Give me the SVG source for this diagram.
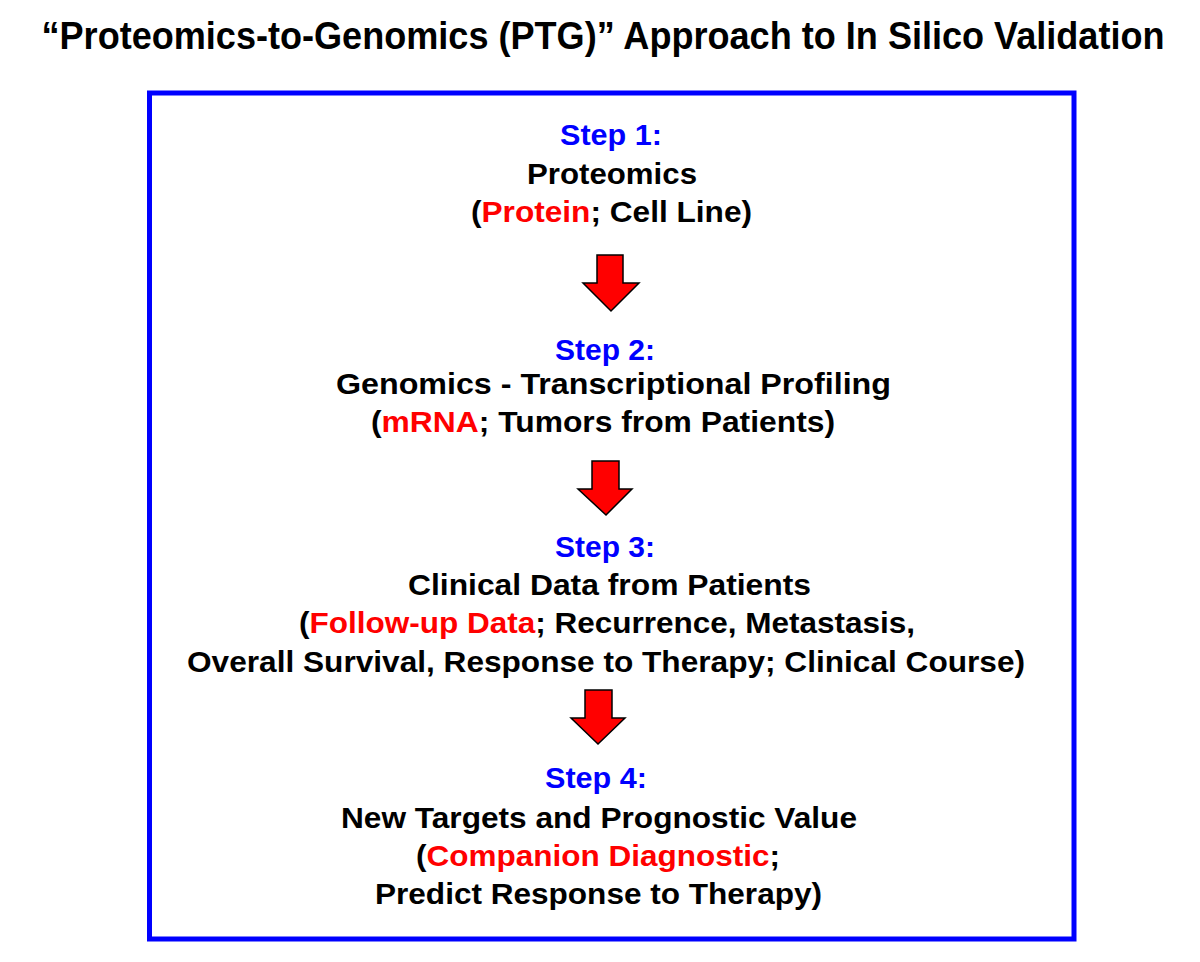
<svg xmlns="http://www.w3.org/2000/svg" width="1200" height="962" viewBox="0 0 1200 962">
<style>
.t{font-family:"Liberation Sans",Arial,sans-serif;font-weight:bold;font-size:30px;text-anchor:middle;fill:#000}
.s{fill:#0000FF}
.r{fill:#FF0000}
.title{font-family:"Liberation Sans",Arial,sans-serif;font-weight:bold;font-size:39px;text-anchor:middle;fill:#000}
.arrow{fill:#FF0000;stroke:#000;stroke-width:1.5;stroke-linejoin:miter}
</style>
<rect width="1200" height="962" fill="#fff"/>
<text class="title" x="603" y="49" textLength="1123" lengthAdjust="spacingAndGlyphs">“Proteomics-to-Genomics (PTG)” Approach to In Silico Validation</text>
<rect id="frame" x="149.5" y="93" width="924.5" height="846" fill="none" stroke="#0000FF" stroke-width="5"/>
<g id="step1">
<text class="t s" x="611" y="145" textLength="102" lengthAdjust="spacingAndGlyphs">Step 1:</text>
<text class="t" x="612" y="184" textLength="170" lengthAdjust="spacingAndGlyphs">Proteomics</text>
<text class="t" x="611.5" y="222" textLength="281" lengthAdjust="spacingAndGlyphs">(<tspan class="r">Protein</tspan>; Cell Line)</text>
</g>
<g id="step2">
<text class="t s" x="605" y="360" textLength="100" lengthAdjust="spacingAndGlyphs">Step 2:</text>
<text class="t" x="613.5" y="394" textLength="555" lengthAdjust="spacingAndGlyphs">Genomics - Transcriptional Profiling</text>
<text class="t" x="603" y="432" textLength="464" lengthAdjust="spacingAndGlyphs">(<tspan class="r">mRNA</tspan>; Tumors from Patients)</text>
</g>
<g id="step3">
<text class="t s" x="605" y="557" textLength="100" lengthAdjust="spacingAndGlyphs">Step 3:</text>
<text class="t" x="609.5" y="595" textLength="403" lengthAdjust="spacingAndGlyphs">Clinical Data from Patients</text>
<text class="t" x="607" y="633" textLength="616" lengthAdjust="spacingAndGlyphs">(<tspan class="r">Follow-up Data</tspan>; Recurrence, Metastasis,</text>
<text class="t" x="606" y="672" textLength="838" lengthAdjust="spacingAndGlyphs">Overall Survival, Response to Therapy; Clinical Course)</text>
</g>
<g id="step4">
<text class="t s" x="596" y="788" textLength="102" lengthAdjust="spacingAndGlyphs">Step 4:</text>
<text class="t" x="599" y="828" textLength="516" lengthAdjust="spacingAndGlyphs">New Targets and Prognostic Value</text>
<text class="t" x="598" y="866" textLength="364" lengthAdjust="spacingAndGlyphs">(<tspan class="r">Companion Diagnostic</tspan>;</text>
<text class="t" x="598.5" y="904" textLength="447" lengthAdjust="spacingAndGlyphs">Predict Response to Therapy)</text>
</g>
<g id="connectors">
<polygon class="arrow" points="597,255 623,255 623,283 639,283 611,311 583,283 597,283"/>
<polygon class="arrow" points="592,461 619,461 619,489 632,489 606,515 578,489 592,489"/>
<polygon class="arrow" points="585,690 612,690 612,718 625,718 598,744 571,718 585,718"/>
</g>
</svg>
